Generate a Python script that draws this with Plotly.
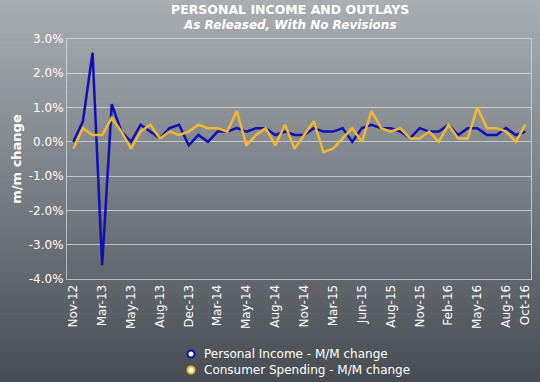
import plotly.graph_objects as go

# ---- data ----
personal_income = [0.0, 0.6, 2.6, -3.6, 1.1, 0.3, 0.0, 0.5, 0.3, 0.1,
                   0.4, 0.5, -0.1, 0.2, 0.0, 0.3, 0.3, 0.4, 0.3, 0.4,
                   0.4, 0.2, 0.3, 0.2, 0.2, 0.4, 0.3, 0.3, 0.4, 0.0,
                   0.4, 0.5, 0.4, 0.4, 0.3, 0.1, 0.4, 0.3, 0.3, 0.5,
                   0.2, 0.4, 0.4, 0.2, 0.2, 0.4, 0.2, 0.3]
consumer_spending = [-0.2, 0.4, 0.2, 0.2, 0.7, 0.3, -0.2, 0.3, 0.5, 0.1,
                     0.3, 0.2, 0.3, 0.5, 0.4, 0.4, 0.3, 0.9, -0.1, 0.2,
                     0.4, -0.1, 0.5, -0.2, 0.2, 0.6, -0.3, -0.2, 0.1, 0.4,
                     0.0, 0.9, 0.4, 0.3, 0.4, 0.1, 0.1, 0.3, 0.0, 0.5,
                     0.1, 0.1, 1.0, 0.4, 0.4, 0.3, 0.0, 0.5]
release_index = list(range(len(personal_income)))
x_tick_index = [0, 3, 6, 9, 12, 15, 18, 21, 24, 27, 30, 33, 36, 39, 42, 45, 47]
x_tick_labels = ["Nov-12", "Mar-13", "May-13", "Aug-13", "Dec-13", "Mar-14",
                 "May-14", "Aug-14", "Nov-14", "Mar-15", "Jun-15", "Aug-15",
                 "Nov-15", "Feb-16", "May-16", "Aug-16", "Oct-16"]
y_tick_values = [3, 2, 1, 0, -1, -2, -3, -4]
y_tick_labels = ["3.0%", "2.0%", "1.0%", "0.0%", "-1.0%", "-2.0%", "-3.0%", "-4.0%"]

series_names = ["Personal Income - M/M change", "Consumer Spending - M/M change"]
series_colors = ["#1010b4", "#f0b830"]

FONT = "DejaVu Sans"
W, H = 540, 382
ML, MR, MT, MB = 67, 9, 39, 103
PW, PH = W - ML - MR, H - MT - MB

fig = go.Figure()
for vals, name, col in zip([personal_income, consumer_spending], series_names, series_colors):
    fig.add_trace(go.Scatter(x=release_index, y=vals, mode="lines", name=name,
                             line=dict(color=col, width=2.5), showlegend=False,
                             hoverinfo="skip"))

def px_x(px):
    return (px - ML) / PW

def px_y(py):
    return (MT + PH - py) / PH

# background gradient (stripes)
top = (170, 175, 180)
bot = (70, 76, 82)
n = 80
y_lo, y_hi = -MB / PH - 0.02, 1 + MT / PH + 0.02
shapes = []
for k in range(n):
    t = k / (n - 1)
    c = tuple(round(top[j] + (bot[j] - top[j]) * t) for j in range(3))
    y1 = y_hi - (y_hi - y_lo) * k / n
    y0 = y_hi - (y_hi - y_lo) * (k + 1) / n - 0.002
    shapes.append(dict(type="rect", xref="paper", yref="paper", x0=-0.2, x1=1.1,
                       y0=y0, y1=y1, fillcolor="rgb(%d,%d,%d)" % c,
                       line=dict(width=0), layer="below"))

annotations = [
    dict(text="<b>PERSONAL INCOME AND OUTLAYS</b>", xref="paper", yref="paper",
         x=px_x(290), y=px_y(10), xanchor="center", yanchor="middle",
         showarrow=False, font=dict(size=12.5, color="white")),
    dict(text="<b><i>As Released, With No Revisions</i></b>", xref="paper", yref="paper",
         x=px_x(290), y=px_y(25), xanchor="center", yanchor="middle",
         showarrow=False, font=dict(size=12, color="white")),
]

# legend drawn as marker shapes + text labels
legend_rows = [354, 370]
for name, col, ry in zip(series_names, series_colors, legend_rows):
    r = 3.5
    shapes.append(dict(type="circle", xref="paper", yref="paper",
                       x0=px_x(191 - r), x1=px_x(191 + r), y0=px_y(ry + r), y1=px_y(ry - r),
                       fillcolor="white", line=dict(color=col, width=2), layer="above"))
    annotations.append(dict(text=name, xref="paper", yref="paper", x=px_x(202), y=px_y(ry),
                            xanchor="left", yanchor="middle", showarrow=False,
                            font=dict(size=12, color="white")))

grid = "rgba(215,220,225,0.75)"
fig.update_layout(
    width=W, height=H,
    margin=dict(l=ML, r=MR, t=MT, b=MB),
    paper_bgcolor="rgb(120,125,130)",
    plot_bgcolor="rgba(0,0,0,0)",
    shapes=shapes,
    annotations=annotations,
    showlegend=False,
    hovermode=False,
    font=dict(family=FONT, color="white", size=12),
    xaxis=dict(range=[-0.655, 47.58], tickmode="array", tickvals=x_tick_index,
               ticktext=x_tick_labels, tickangle=-90, showgrid=False,
               zeroline=False, showline=True, mirror=True, linecolor=grid,
               linewidth=1, ticks="", tickfont=dict(size=12, color="white")),
    yaxis=dict(range=[-4, 3], tickmode="array", tickvals=y_tick_values,
               ticktext=y_tick_labels, showgrid=True, gridcolor=grid, gridwidth=1,
               zeroline=False, showline=True, mirror=True, linecolor=grid,
               linewidth=1, ticks="", tickfont=dict(size=12, color="white"),
               title=dict(text="<b>m/m change</b>", font=dict(size=13, color="white"),
                          standoff=4)),
)

fig.write_html("out.html", config={"displayModeBar": False, "staticPlot": True},
               post_script="document.body.style.margin='0';document.body.style.overflow='hidden';")
